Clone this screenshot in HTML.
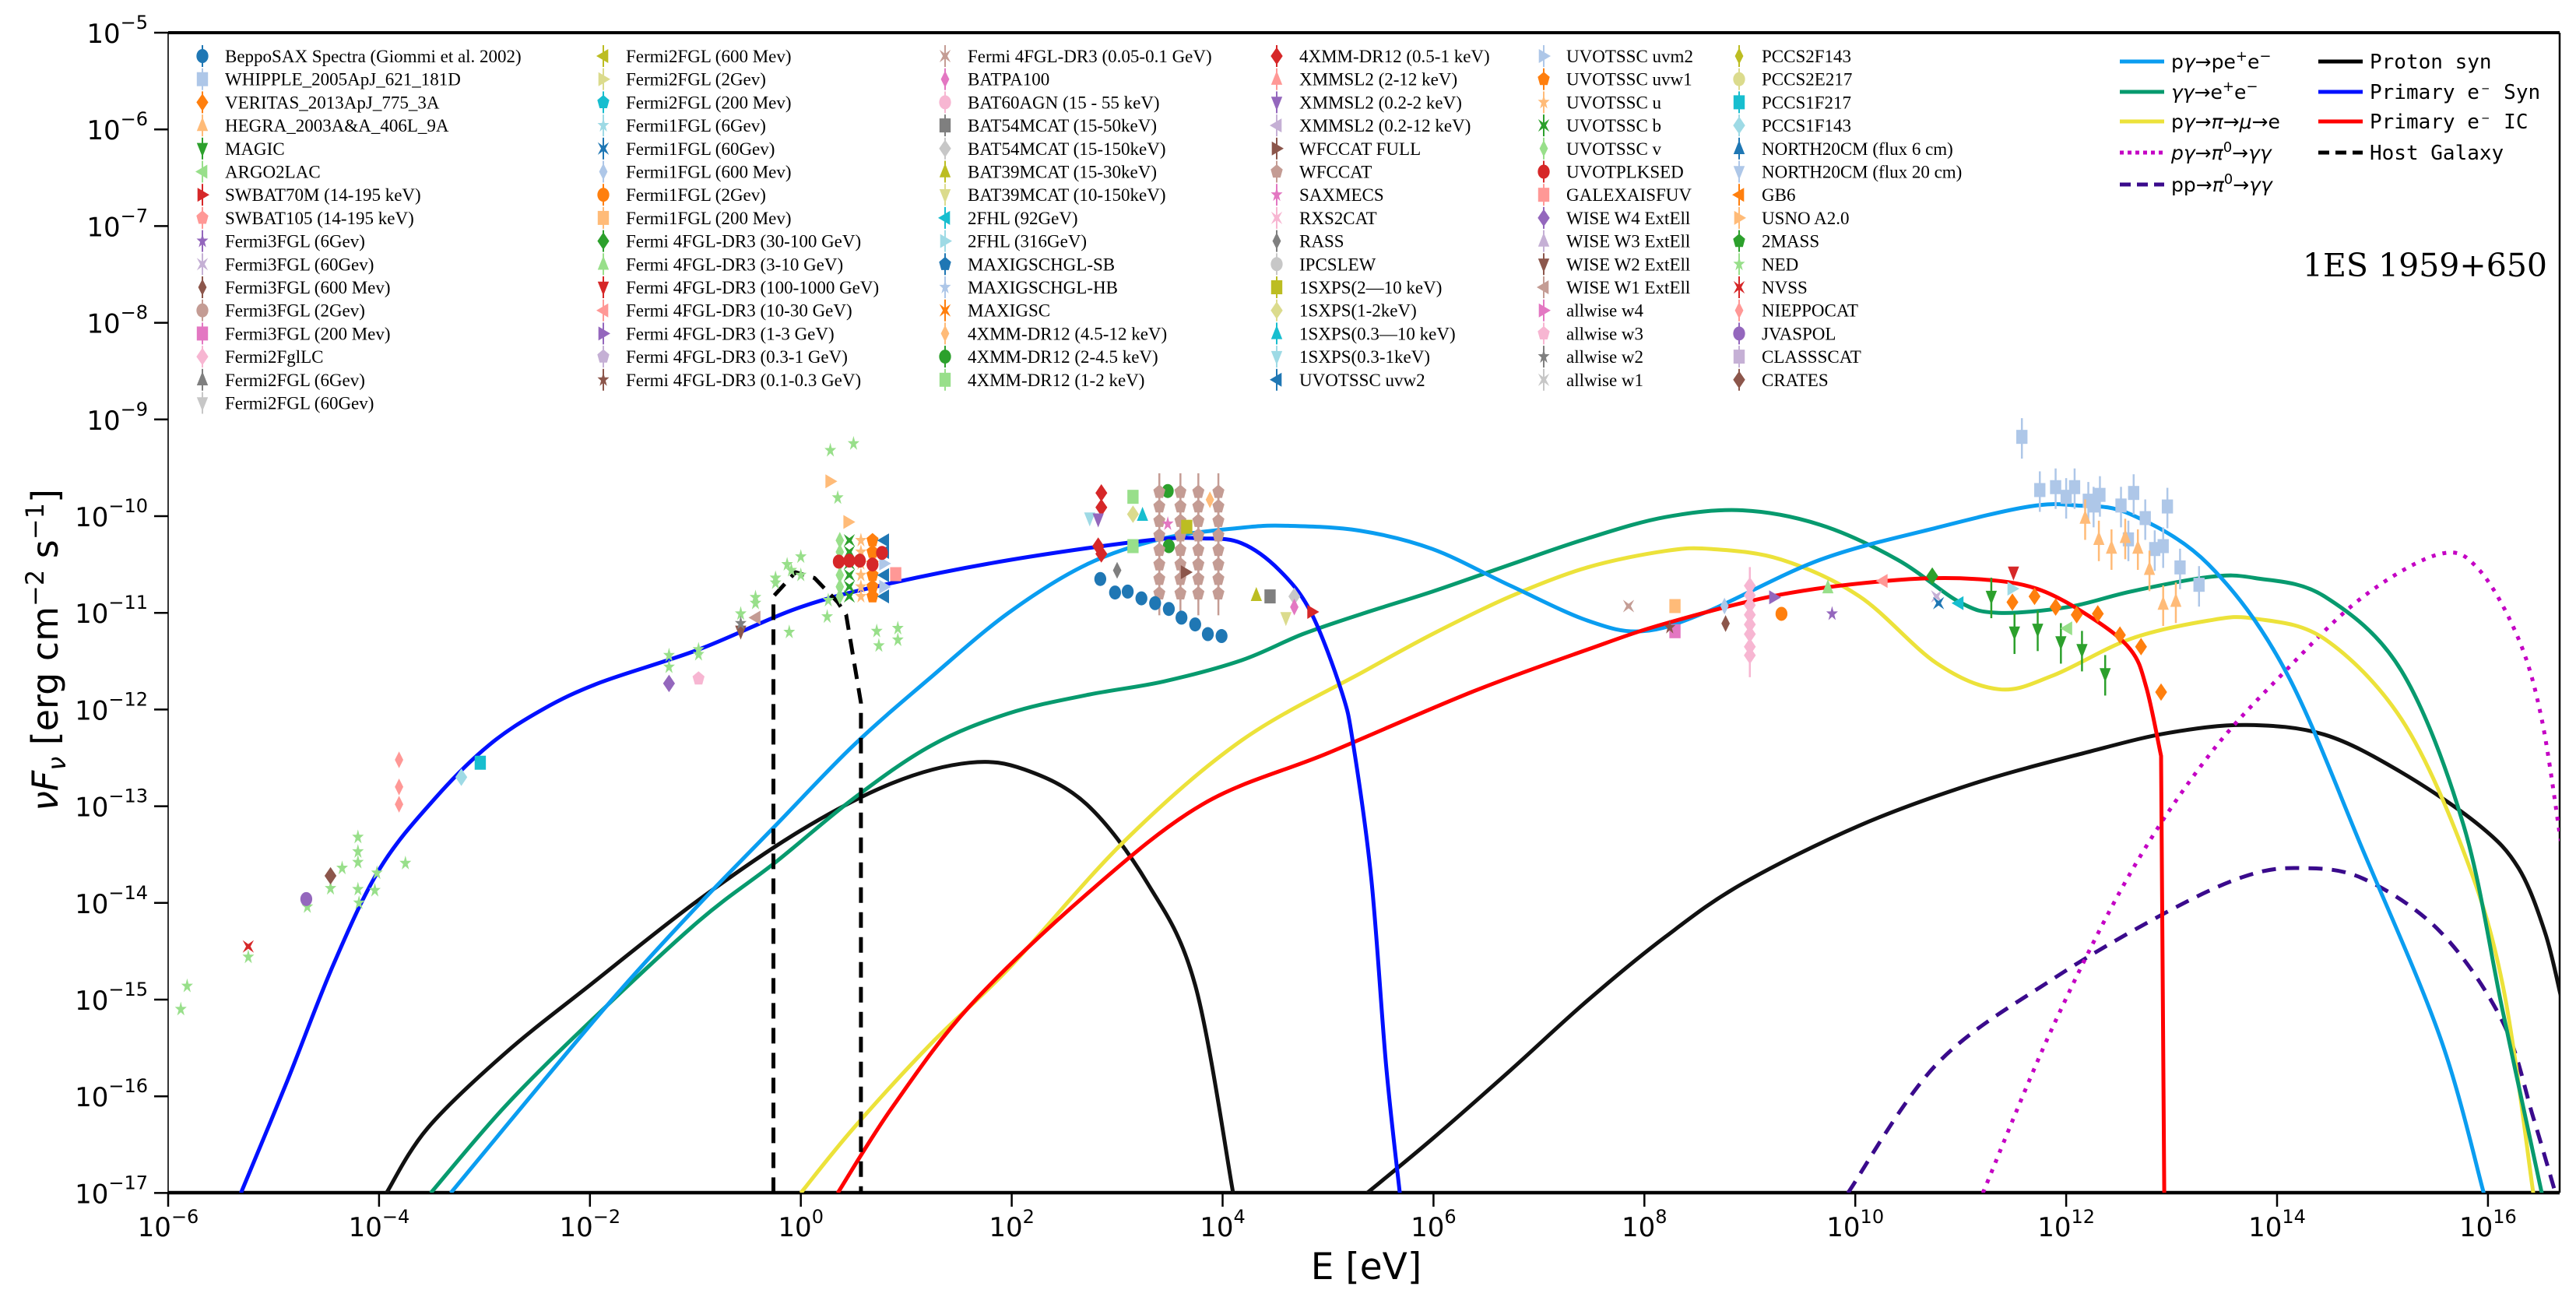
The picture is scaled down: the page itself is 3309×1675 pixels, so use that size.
<!DOCTYPE html>
<html><head><meta charset="utf-8"><title>1ES 1959+650 SED</title>
<style>
html,body{margin:0;padding:0;background:#fff;}
svg{display:block;}
</style></head>
<body>
<svg id="chart" xmlns="http://www.w3.org/2000/svg" width="3309" height="1675" viewBox="0 0 3309 1675">
<defs><clipPath id="plotclip"><rect x="216" y="42" width="3072" height="1490"/></clipPath></defs>
<rect x="0" y="0" width="3309" height="1675" fill="#fff"/>
<g id="axes"></g>
<g id="curves" clip-path="url(#plotclip)"></g>
<g id="points" clip-path="url(#plotclip)"></g>
<g id="legend"></g>
<g id="mlegend"></g>
<text x="3272" y="355" text-anchor="end" font-family="DejaVu Serif, Liberation Serif, serif" font-size="41">1ES 1959+650</text>
<text x="1755" y="1643" text-anchor="middle" font-family="DejaVu Sans, Liberation Sans, sans-serif" font-size="47">E [eV]</text>
<text transform="translate(74,835) rotate(-90)" text-anchor="middle" font-family="DejaVu Sans, Liberation Sans, sans-serif" font-size="46"><tspan font-style="italic">νF</tspan><tspan font-style="italic" font-size="32" dy="10">ν</tspan><tspan dy="-10"> [erg cm</tspan><tspan font-size="32" dy="-18">−2</tspan><tspan dy="18"> s</tspan><tspan font-size="32" dy="-18">−1</tspan><tspan dy="18">]</tspan></text>
</svg>
<script>
// ---- axis ranges (log10) ----
const xTicks = [-6,-4,-2,0,2,4,6,8,10,12,14,16];
const yTicks = [-5,-6,-7,-8,-9,-10,-11,-12,-13,-14,-15,-16,-17];
const xMin = -6, xMax = 16.69, yMax = -5, yMin = -17;

// ---- model curves (log10 E [eV], log10 nuFnu) ----
const synE = [-5.31,-4.87,-4.43,-3.99,-3.47,-2.96,-2.45,-1.9,-0.97,0,0.87,2.0,3.29,3.81,4.18,4.54,4.84,5.13,5.24,5.41,5.55,5.68];
const synF = [-17,-15.84,-14.63,-13.64,-12.92,-12.37,-12.0,-11.72,-11.38,-10.94,-10.69,-10.45,-10.25,-10.23,-10.28,-10.56,-11.0,-11.82,-12.37,-13.75,-15.67,-17];
const bhE = [-3.32,-2.44,-1.71,-0.97,-0.24,0.5,1.24,1.97,2.71,3.44,4.18,4.62,5.3,5.99,6.73,7.46,7.98,8.57,9.67,10.77,11.65,12.1,12.61,13.35,14.08,14.82,15.55,15.96];
const bhF = [-17,-15.84,-14.9,-14.02,-13.2,-12.37,-11.66,-11.0,-10.5,-10.23,-10.12,-10.1,-10.15,-10.34,-10.72,-11.08,-11.19,-11.0,-10.45,-10.12,-9.9,-9.89,-9.98,-10.5,-11.6,-13.47,-15.4,-17];
const ggE = [-3.51,-2.81,-2.0,-0.97,-0.24,0.5,1.24,1.97,2.71,3.44,4.18,4.76,5.35,5.99,6.73,7.46,8.2,8.93,9.67,10.4,10.99,11.36,12.02,12.61,13.35,13.79,14.45,15.18,15.77,16.14,16.51];
const ggF = [-17,-16.11,-15.23,-14.19,-13.58,-12.92,-12.37,-12.04,-11.85,-11.71,-11.49,-11.22,-11.0,-10.78,-10.5,-10.23,-10.01,-9.94,-10.09,-10.45,-10.89,-11.0,-10.94,-10.78,-10.63,-10.64,-10.83,-11.6,-13.2,-15.12,-17];
const pionE = [0.0,0.5,1.24,1.97,3.07,4.18,5.35,5.99,6.73,7.46,8.2,8.64,9.3,10.04,10.77,11.36,11.87,12.61,13.35,13.79,14.45,15.18,15.77,16.14,16.43];
const pionF = [-17,-16.33,-15.45,-14.68,-13.36,-12.32,-11.6,-11.22,-10.83,-10.53,-10.36,-10.34,-10.45,-10.83,-11.52,-11.79,-11.65,-11.27,-11.08,-11.06,-11.27,-12.1,-13.47,-14.85,-17];
const icE = [0.35,0.87,1.6,2.71,3.81,5.0,6.36,7.46,8.2,9.3,10.4,11.14,11.72,12.24,12.61,12.76,12.9];
const icF = [-17,-16.11,-15.07,-13.91,-12.98,-12.45,-11.82,-11.38,-11.11,-10.81,-10.66,-10.65,-10.75,-11.05,-11.38,-11.77,-12.48];
const icDropE = [12.9,12.93];
const icDropF = [-12.48,-17];
const psyn1E = [-3.93,-3.54,-2.81,-2.0,-0.97,0,0.87,1.6,2.12,2.71,3.29,3.74,4.1];
const psyn1F = [-17,-16.33,-15.56,-14.85,-13.97,-13.25,-12.76,-12.55,-12.62,-12.98,-13.8,-14.85,-17];
const psyn2E = [5.37,5.99,6.73,7.46,8.2,8.93,10.04,11.14,12.24,12.98,13.71,14.45,15.18,15.92,16.29,16.54,16.69];
const psyn2F = [-17,-16.44,-15.73,-15.01,-14.35,-13.8,-13.2,-12.76,-12.43,-12.24,-12.16,-12.26,-12.65,-13.2,-13.64,-14.3,-14.96];
const pi0E = [11.21,11.87,12.61,13.35,14.08,14.82,15.55,15.92,16.29,16.51,16.69];
const pi0F = [-17,-15.29,-13.69,-12.48,-11.6,-10.83,-10.39,-10.56,-11.27,-12.1,-13.36];
const ppE = [9.93,10.77,11.87,12.98,13.71,14.23,14.82,15.55,16.14,16.43,16.64];
const ppF = [-17,-15.67,-14.79,-14.08,-13.72,-13.64,-13.75,-14.3,-15.23,-16.22,-17];
const hostE = [-0.26,-0.26,-0.05,0.13,0.35,0.43,0.57,0.57];
const hostF = [-17,-10.83,-10.58,-10.64,-10.89,-11.02,-11.93,-17];

// ---- legend labels ----
const legendLabels = [
"BeppoSAX Spectra (Giommi et al. 2002)","WHIPPLE_2005ApJ_621_181D","VERITAS_2013ApJ_775_3A","HEGRA_2003A&A_406L_9A","MAGIC","ARGO2LAC","SWBAT70M  (14-195 keV)","SWBAT105 (14-195 keV)","Fermi3FGL (6Gev)","Fermi3FGL (60Gev)","Fermi3FGL (600 Mev)","Fermi3FGL (2Gev)","Fermi3FGL (200 Mev)","Fermi2FglLC","Fermi2FGL (6Gev)","Fermi2FGL (60Gev)",
"Fermi2FGL (600 Mev)","Fermi2FGL (2Gev)","Fermi2FGL (200 Mev)","Fermi1FGL (6Gev)","Fermi1FGL (60Gev)","Fermi1FGL (600 Mev)","Fermi1FGL (2Gev)","Fermi1FGL (200 Mev)","Fermi 4FGL-DR3 (30-100 GeV)","Fermi 4FGL-DR3 (3-10 GeV)","Fermi 4FGL-DR3 (100-1000 GeV)","Fermi 4FGL-DR3 (10-30 GeV)","Fermi 4FGL-DR3 (1-3 GeV)","Fermi 4FGL-DR3 (0.3-1 GeV)","Fermi 4FGL-DR3 (0.1-0.3 GeV)",
"Fermi 4FGL-DR3 (0.05-0.1 GeV)","BATPA100","BAT60AGN (15 - 55 keV)","BAT54MCAT (15-50keV)","BAT54MCAT (15-150keV)","BAT39MCAT (15-30keV)","BAT39MCAT (10-150keV)","2FHL (92GeV)","2FHL (316GeV)","MAXIGSCHGL-SB","MAXIGSCHGL-HB","MAXIGSC","4XMM-DR12 (4.5-12 keV)","4XMM-DR12 (2-4.5 keV)","4XMM-DR12 (1-2 keV)",
"4XMM-DR12 (0.5-1 keV)","XMMSL2 (2-12 keV)","XMMSL2 (0.2-2 keV)","XMMSL2 (0.2-12 keV)","WFCCAT FULL","WFCCAT","SAXMECS","RXS2CAT","RASS","IPCSLEW","1SXPS(2—10 keV)","1SXPS(1-2keV)","1SXPS(0.3—10 keV)","1SXPS(0.3-1keV)","UVOTSSC uvw2",
"UVOTSSC uvm2","UVOTSSC uvw1","UVOTSSC u","UVOTSSC b","UVOTSSC v","UVOTPLKSED","GALEXAISFUV","WISE W4 ExtEll","WISE W3 ExtEll","WISE W2 ExtEll","WISE W1 ExtEll","allwise w4","allwise w3","allwise w2","allwise w1",
"PCCS2F143","PCCS2E217","PCCS1F217","PCCS1F143","NORTH20CM (flux 6 cm)","NORTH20CM (flux 20 cm)","GB6","USNO A2.0","2MASS","NED","NVSS","NIEPPOCAT","JVASPOL","CLASSSCAT","CRATES"];
const legendColCounts = [16,15,15,15,15,15];

// ---- observed points: log10 E, log10 nuFnu, source index ----
const ptE = [
-5.82,-5.88,-5.24,-4.68,-4.46,-4.20,-4.20,-4.20,-4.35,-4.02,-4.04,-4.20,-4.19,-3.75,-1.25,-1.25,-0.97,-0.97,-0.57,-0.43,-0.43,-0.24,-0.13,0.0,0.0,0.28,0.50,0.35,0.25,-0.11,0.72,0.92,0.92,0.74,0.26,-0.09,-0.24,
-5.24,-4.69,-4.46,-3.81,-3.81,-3.81,-3.22,-3.04,-1.25,-0.97,-0.57,-0.43,-0.57,
0.37,0.37,0.37,0.37,0.37,0.37, 0.46,0.46,0.46,0.46,0.46,0.46, 0.57,0.57,0.57,0.57,0.57,0.57, 0.68,0.68,0.68,0.68,0.68,0.68, 0.79,0.79,0.79,0.79,0.79,0.79,
0.36,0.46,0.56,0.68,0.77,0.90,0.28,0.45,
2.85,2.85,2.82,2.85,3.15,3.15,3.48,3.49,
3.40,3.40,3.40,3.40,3.40,3.40,3.40,3.40, 3.60,3.60,3.60,3.60,3.60,3.60,3.60,3.60, 3.77,3.77,3.77,3.77,3.77,3.77,3.77,3.77, 3.96,3.96,3.96,3.96,3.96,3.96,3.96,3.96,
2.84,2.98,3.10,3.23,3.36,3.49,3.61,3.74,3.86,3.99,
3.0,4.32,4.45,4.68,4.68,4.85,4.60,2.74,2.82,3.24,3.15,3.66,3.48,3.88,3.65,
7.85,8.29,8.29,8.24,8.76,8.77,
9.0,9.0,9.0,9.0,9.0,9.0,9.0,9.0,
9.30,9.23,9.74,9.78,10.26,10.73,10.77,10.79,10.98,
11.29,11.51,11.73,11.95,12.15,12.37,11.50,11.49,
11.49,11.70,11.90,12.10,12.30,12.51,12.71,12.90,12.01,
11.58,11.75,11.90,12.0,12.08,12.21,12.26,12.32,12.52,12.64,12.75,12.59,12.84,12.92,12.96,13.08,13.26,
12.18,12.31,12.43,12.56,12.68,12.79,12.92,13.04];
const ptF = [
-14.86,-15.10,-14.56,-14.04,-13.85,-13.32,-13.47,-13.58,-13.64,-13.69,-13.87,-13.86,-14.0,-13.59,-11.44,-11.56,-11.38,-11.43,-11.01,-10.84,-10.90,-10.64,-10.50,-10.42,-10.61,-9.32,-9.25,-9.81,-11.04,-11.20,-11.19,-11.16,-11.28,-11.34,-10.87,-10.56,-10.69,
-14.45,-13.96,-13.72,-12.52,-12.80,-12.98,-12.70,-12.55,-11.73,-11.68,-11.19,-11.05,-11.11,
-10.25,-10.37,-10.49,-10.61,-10.73,-10.83, -10.25,-10.37,-10.49,-10.61,-10.73,-10.83, -10.25,-10.37,-10.49,-10.61,-10.73,-10.83, -10.25,-10.37,-10.49,-10.61,-10.73,-10.83, -10.25,-10.37,-10.49,-10.61,-10.73,-10.83,
-10.47,-10.46,-10.46,-10.50,-10.38,-10.60,-9.64,-10.06,
-9.76,-9.91,-10.31,-10.39,-9.80,-10.31,-9.74,-10.31,
-9.75,-9.9,-10.05,-10.2,-10.35,-10.5,-10.65,-10.8, -9.75,-9.9,-10.05,-10.2,-10.35,-10.5,-10.65,-10.8, -9.75,-9.9,-10.05,-10.2,-10.35,-10.5,-10.65,-10.8, -9.75,-9.9,-10.05,-10.2,-10.35,-10.5,-10.65,-10.8,
-10.65,-10.79,-10.78,-10.85,-10.90,-10.96,-11.05,-11.12,-11.22,-11.24,
-10.56,-10.82,-10.83,-10.83,-10.94,-10.99,-11.05,-10.02,-10.03,-9.99,-9.98,-10.11,-10.08,-9.83,-10.58,
-10.93,-10.93,-11.19,-11.15,-10.93,-11.11,
-10.72,-10.82,-10.92,-11.02,-11.12,-11.22,-11.35,-11.44,
-11.01,-10.84,-10.74,-11.01,-10.67,-10.62,-10.83,-10.90,-10.90,
-10.83,-11.20,-11.17,-11.30,-11.38,-11.63,-10.58,-10.75,
-10.89,-10.83,-10.94,-11.02,-11.01,-11.23,-11.35,-11.82,-11.16,
-9.18,-9.73,-9.70,-9.80,-9.70,-9.84,-9.89,-9.78,-9.89,-9.76,-10.02,-10.24,-10.34,-10.31,-9.90,-10.53,-10.71,
-10.02,-10.24,-10.33,-10.22,-10.33,-10.55,-10.91,-10.88];
const ptSrc = [
85,85,85,85,85,85,85,85,85,85,85,85,85,85,85,85,85,85,85,85,85,85,85,85,85,85,85,85,85,85,85,85,85,85,85,85,85,
86,88,90,87,87,87,79,78,68,73,70,71,74,
65,65,65,65,65,65, 64,64,64,64,64,64, 63,63,63,63,63,63, 62,62,62,62,62,62, 60,60,61,60,61,60,
66,66,66,66,66,67,83,83,
46,46,46,46,45,45,44,44,
51,51,51,51,51,51,51,51, 51,51,51,51,51,51,51,51, 51,51,51,51,51,51,51,51, 51,51,51,51,51,51,51,51,
0,0,0,0,0,0,0,0,0,0,
54,36,34,35,32,6,37,59,48,58,57,56,52,43,50,
31,23,12,30,21,10,
13,13,13,13,13,13,13,13,
22,28,25,8,27,24,9,20,38,
4,4,4,4,4,4,26,39,
2,2,2,2,2,2,2,2,5,
1,1,1,1,1,1,1,1,1,1,1,1,1,1,1,1,1,
3,3,3,3,3,3,3,3];

const tab20 = ["#1f77b4","#aec7e8","#ff7f0e","#ffbb78","#2ca02c","#98df8a","#d62728","#ff9896","#9467bd","#c5b0d5","#8c564b","#c49c94","#e377c2","#f7b6d2","#7f7f7f","#c7c7c7","#bcbd22","#dbdb8d","#17becf","#9edae5"];
const markerCycle = ["o","s","D","^","v","<",">","p","*","X","d"];

const NS = "http://www.w3.org/2000/svg";
function xs(v){ return 216 + (v - xMin) * 135.45; }
function ys(v){ return 42 + (yMax - v) * 124.2; }
function el(tag, attrs, parent){
  const e = document.createElementNS(NS, tag);
  for (const k in attrs) e.setAttribute(k, attrs[k]);
  if (parent) parent.appendChild(e);
  return e;
}

// ---- axes ----
const axes = document.getElementById('axes');
const sp1 = el('line',{x1:216,y1:1532,x2:3288,y2:1532,stroke:'#000','stroke-width':4.5},axes);


const sp2 = el('line',{x1:216,y1:42,x2:3288,y2:42,stroke:'#000','stroke-width':4},axes);


const sp3 = el('line',{x1:216,y1:42,x2:216,y2:1532,stroke:'#000','stroke-width':1.6},axes);


const sp4 = el('line',{x1:3288,y1:42,x2:3288,y2:1532,stroke:'#000','stroke-width':2.5},axes);



xTicks.forEach(function(t){
  const x = xs(t);
  const tk = el('line',{x1:x,y1:1532,x2:x,y2:1550,stroke:'#000','stroke-width':2.5},axes);
  
  
  const tx = el('text',{x:x,y:1588,'text-anchor':'middle','font-family':'DejaVu Sans, Liberation Sans, sans-serif','font-size':34},axes);
  
  
  tx.appendChild(document.createTextNode('10'));
  const sup = el('tspan',{dy:-17,'font-size':24},tx);
  sup.textContent = (t < 0 ? '−' + (-t) : String(t));
});
yTicks.forEach(function(t){
  const y = ys(t);
  const tk = el('line',{x1:198,y1:y,x2:216,y2:y,stroke:'#000','stroke-width':2.5},axes);
  
  
  const tx = el('text',{x:190,y:y+13,'text-anchor':'end','font-family':'DejaVu Sans, Liberation Sans, sans-serif','font-size':34},axes);
  
  
  tx.appendChild(document.createTextNode('10'));
  const sup = el('tspan',{dy:-18,'font-size':24},tx);
  sup.textContent = '−' + (-t);
});

// ---- curves ----
function smoothPath(E, F){
  const P = E.map(function(e,i){ return [xs(e), ys(F[i])]; });
  let d = 'M' + P[0][0].toFixed(1) + ',' + P[0][1].toFixed(1);
  for (let i = 0; i < P.length - 1; i++){
    const p0 = P[i-1] || P[i], p1 = P[i], p2 = P[i+1], p3 = P[i+2] || P[i+1];
    const c1x = p1[0] + (p2[0]-p0[0])/6, c1y = p1[1] + (p2[1]-p0[1])/6;
    const c2x = p2[0] - (p3[0]-p1[0])/6, c2y = p2[1] - (p3[1]-p1[1])/6;
    d += ' C' + c1x.toFixed(1)+','+c1y.toFixed(1)+' '+c2x.toFixed(1)+','+c2y.toFixed(1)+' '+p2[0].toFixed(1)+','+p2[1].toFixed(1);
  }
  return d;
}
function linePath(E, F){
  return E.map(function(e,i){ return (i?'L':'M') + xs(e).toFixed(1) + ',' + ys(F[i]).toFixed(1); }).join(' ');
}
const curvesG = document.getElementById('curves');
function addCurve(name, d, color, width, dash){
  const p = el('path',{d:d,fill:'none',stroke:color,'stroke-width':width,'stroke-linejoin':'round'},curvesG);
  if (dash) p.setAttribute('stroke-dasharray', dash);
  
  
}
addCurve('proton-syn-low-curve', smoothPath(psyn1E, psyn1F), '#111', 5);
addCurve('proton-syn-high-curve', smoothPath(psyn2E, psyn2F), '#111', 5);
addCurve('pp-pi0-gamma-curve', smoothPath(ppE, ppF), '#3a0a8c', 5, '18,12');
addCurve('pgamma-pi0-gamma-curve', smoothPath(pi0E, pi0F), '#c400c4', 5, '5,9');
addCurve('pgamma-pion-muon-e-curve', smoothPath(pionE, pionF), '#ece23a', 5);
addCurve('gammagamma-pair-curve', smoothPath(ggE, ggF), '#079a6e', 5);
addCurve('pgamma-pair-curve', smoothPath(bhE, bhF), '#0a9df0', 5);
addCurve('primary-electron-ic-curve', smoothPath(icE, icF) + ' ' + linePath(icDropE, icDropF).replace('M','L'), '#ff0000', 5);
addCurve('primary-electron-syn-curve', smoothPath(synE, synF), '#0010ff', 5);
addCurve('host-galaxy-curve', linePath(hostE, hostF), '#000', 5, '20,12');

// ---- marker drawing ----
function markerShape(g, cx, cy, m, color, r){
  let s;
  const pts = function(arr){ return arr.map(function(p){ return (cx+p[0]).toFixed(1)+','+(cy+p[1]).toFixed(1); }).join(' '); };
  if (m === 'o') s = el('ellipse',{cx:cx,cy:cy,rx:r*0.85,ry:r,fill:color},g);
  else if (m === 's') s = el('rect',{x:cx-r*0.8,y:cy-r,width:r*1.6,height:r*2,fill:color},g);
  else if (m === 'D') s = el('polygon',{points:pts([[0,-r*1.25],[r*0.85,0],[0,r*1.25],[-r*0.85,0]]),fill:color},g);
  else if (m === 'd') s = el('polygon',{points:pts([[0,-r*1.2],[r*0.6,0],[0,r*1.2],[-r*0.6,0]]),fill:color},g);
  else if (m === '^') s = el('polygon',{points:pts([[0,-r*1.2],[r*0.8,r*0.8],[-r*0.8,r*0.8]]),fill:color},g);
  else if (m === 'v') s = el('polygon',{points:pts([[0,r*1.2],[r*0.8,-r*0.8],[-r*0.8,-r*0.8]]),fill:color},g);
  else if (m === '<') s = el('polygon',{points:pts([[-r,0],[r*0.7,-r],[r*0.7,r]]),fill:color},g);
  else if (m === '>') s = el('polygon',{points:pts([[r,0],[-r*0.7,-r],[-r*0.7,r]]),fill:color},g);
  else if (m === 'p'){
    const a = []; for (let k=0;k<5;k++){ const t=-Math.PI/2+k*2*Math.PI/5; a.push([Math.cos(t)*r*0.9, Math.sin(t)*r*1.05]); }
    s = el('polygon',{points:pts(a),fill:color},g);
  } else if (m === '*'){
    const a = []; for (let k=0;k<10;k++){ const t=-Math.PI/2+k*Math.PI/5; const rr=(k%2?0.42:1.1)*r; a.push([Math.cos(t)*rr*0.8, Math.sin(t)*rr]); }
    s = el('polygon',{points:pts(a),fill:color},g);
  } else {
    const w = r*0.32, q = r*0.8;
    s = el('polygon',{points:pts([[-q,-q-w*0.3],[0,-w],[q,-q-w*0.3],[w,0],[q,q+w*0.3],[0,w],[-q,q+w*0.3],[-w,0]]),fill:color},g);
  }
  return s;
}

// ---- points ----
const ptsG = document.getElementById('points');
ptE.forEach(function(e,i){
  const src = ptSrc[i];
  const color = tab20[src % 20];
  const m = markerCycle[src % 11];
  const cx = xs(e), cy = ys(ptF[i]);
  const g = el('g',{},ptsG);
  
  
  if (src === 1 || src === 3 || src === 4 || src === 51 || src === 13){
    el('line',{x1:cx,y1:cy-24,x2:cx,y2:cy+28,stroke:color,'stroke-width':2.5},g);
  }
  markerShape(g, cx, cy, m, color, 9);
});

// ---- data legend ----
const legG = document.getElementById('legend');
const colMarkX = [260,775,1214,1640,1983,2234];
let idx = 0;
legendColCounts.forEach(function(n,c){
  for (let r = 0; r < n; r++){
    const i = idx++;
    const y = 72 + r * 29.7;
    const g = el('g',{},legG);
    
    
    const color = tab20[i % 20];
    el('line',{x1:colMarkX[c],y1:y-14,x2:colMarkX[c],y2:y+14,stroke:color,'stroke-width':2},g);
    markerShape(g, colMarkX[c], y, markerCycle[i % 11], color, 9);
    const t = el('text',{x:colMarkX[c]+29,y:y+8,'font-family':'Liberation Serif, DejaVu Serif, serif','font-size':23},g);
    t.textContent = legendLabels[i];
  }
});

// ---- model legend ----
const mleg = document.getElementById('mlegend');
const mItems = [
 {x:2723,y:79,c:'#0a9df0',dash:null,html:'p<tspan font-style="italic">γ</tspan>→pe<tspan dy="-10" font-size="18">+</tspan><tspan dy="10">e</tspan><tspan dy="-10" font-size="18">−</tspan>'},
 {x:2723,y:118,c:'#079a6e',dash:null,html:'<tspan font-style="italic">γγ</tspan>→e<tspan dy="-10" font-size="18">+</tspan><tspan dy="10">e</tspan><tspan dy="-10" font-size="18">−</tspan>'},
 {x:2723,y:156,c:'#ece23a',dash:null,html:'p<tspan font-style="italic">γ</tspan>→<tspan font-style="italic">π</tspan>→<tspan font-style="italic">μ</tspan>→e'},
 {x:2723,y:196,c:'#c400c4',dash:'5,5',html:'<tspan font-style="italic">pγ</tspan>→<tspan font-style="italic">π</tspan><tspan dy="-10" font-size="18">0</tspan><tspan dy="10">→</tspan><tspan font-style="italic">γγ</tspan>'},
 {x:2723,y:237,c:'#3a0a8c',dash:'14,8',html:'pp→<tspan font-style="italic">π</tspan><tspan dy="-10" font-size="18">0</tspan><tspan dy="10">→</tspan><tspan font-style="italic">γγ</tspan>'},
 {x:2978,y:79,c:'#000',dash:null,html:'Proton syn'},
 {x:2978,y:118,c:'#0010ff',dash:null,html:'Primary e⁻ Syn'},
 {x:2978,y:156,c:'#ff0000',dash:null,html:'Primary e⁻ IC'},
 {x:2978,y:196,c:'#000',dash:'14,8',html:'Host Galaxy'}
];
mItems.forEach(function(it){
  const g = el('g',{},mleg);
  
  
  const ln = el('line',{x1:it.x,y1:it.y,x2:it.x+57,y2:it.y,stroke:it.c,'stroke-width':5},g);
  if (it.dash) ln.setAttribute('stroke-dasharray', it.dash);
  const mono = it.x > 2900;
  const t = el('text',{x:it.x+66,y:it.y+9,'font-family': mono ? 'DejaVu Sans Mono, Liberation Mono, monospace' : 'DejaVu Sans, Liberation Sans, sans-serif','font-size':mono?26:25},g);
  t.innerHTML = it.html;
});
</script>
</body></html>
